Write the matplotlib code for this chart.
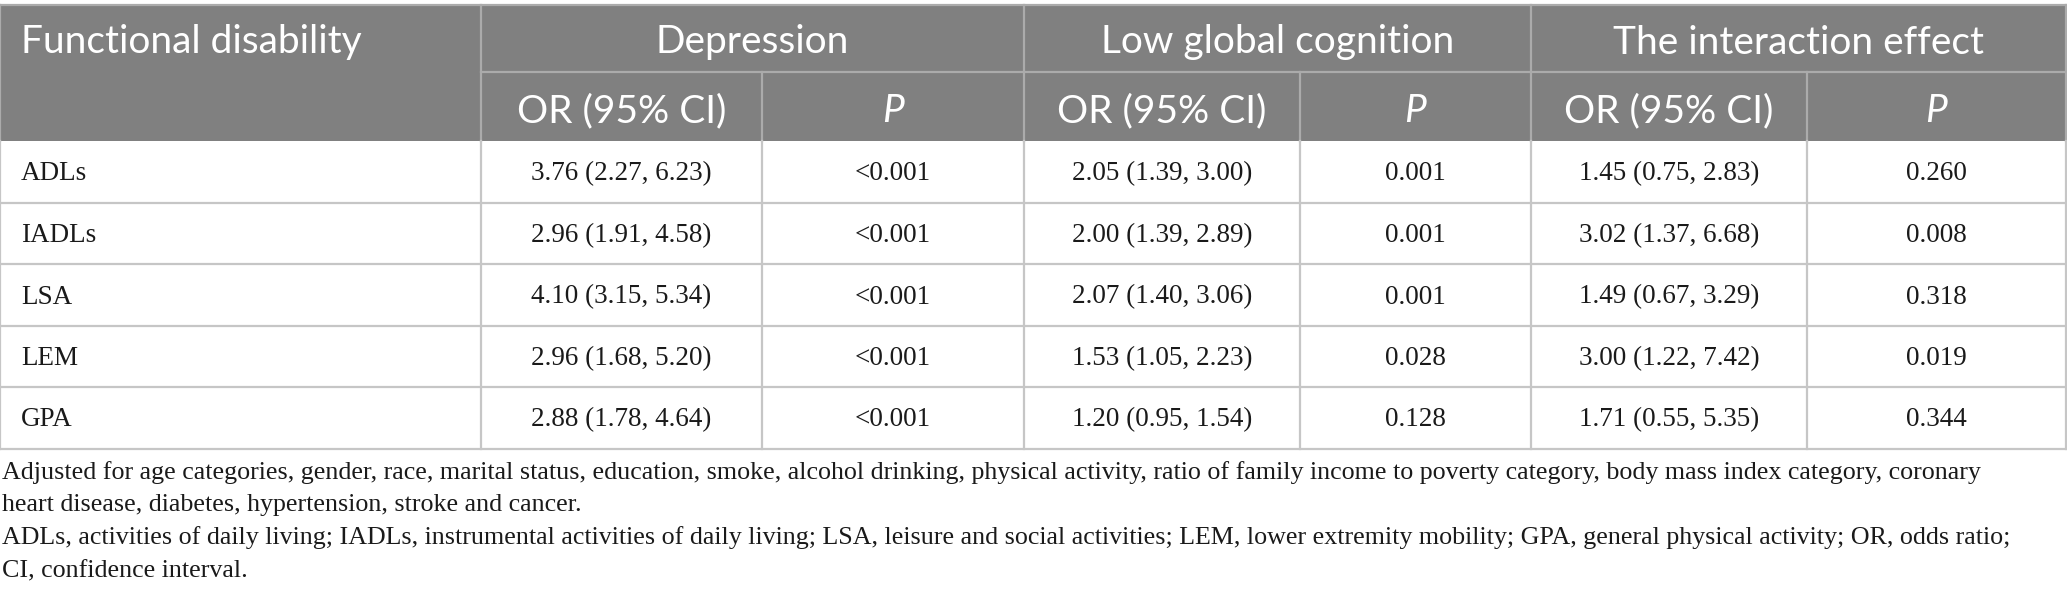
import matplotlib
matplotlib.use("Agg")
import matplotlib.pyplot as plt
from matplotlib.patches import Rectangle

OUT_PNG = "out.png"
W, H = 2067, 613
DPI = 100

# --- contenuti della tabella ---
GROUPS = ["Depression", "Low global cognition", "The interaction effect"]
SUB_HEADERS = ["OR (95% CI)", "P"]
ROW_LABELS = ["ADLs", "IADLs", "LSA", "LEM", "GPA"]

DEP_OR = ["3.76 (2.27, 6.23)", "2.96 (1.91, 4.58)", "4.10 (3.15, 5.34)",
          "2.96 (1.68, 5.20)", "2.88 (1.78, 4.64)"]
DEP_P = ["<0.001", "<0.001", "<0.001", "<0.001", "<0.001"]
COG_OR = ["2.05 (1.39, 3.00)", "2.00 (1.39, 2.89)", "2.07 (1.40, 3.06)",
          "1.53 (1.05, 2.23)", "1.20 (0.95, 1.54)"]
COG_P = ["0.001", "0.001", "0.001", "0.028", "0.128"]
INT_OR = ["1.45 (0.75, 2.83)", "3.02 (1.37, 6.68)", "1.49 (0.67, 3.29)",
          "3.00 (1.22, 7.42)", "1.71 (0.55, 5.35)"]
INT_P = ["0.260", "0.008", "0.318", "0.019", "0.344"]

FOOTNOTES = [
    "Adjusted for age categories, gender, race, marital status, education, smoke, alcohol drinking, "
    "physical activity, ratio of family income to poverty category, body mass index category, coronary",
    "heart disease, diabetes, hypertension, stroke and cancer.",
    "ADLs, activities of daily living; IADLs, instrumental activities of daily living; LSA, leisure and "
    "social activities; LEM, lower extremity mobility; GPA, general physical activity; OR, odds ratio;",
    "CI, confidence interval.",
]

# --- geometria (pixel) ---
COL_X = [0, 481, 762, 1024, 1300, 1531, 1807, 2066]
HDR_Y = [5, 72, 141]
ROW_Y = [141, 203, 264, 326, 387, 449]
FOOT_Y = [473, 505, 538, 571]

HDR_BG = "#808080"
HDR_LINE = "#ababab"
GRID = "#c6c6c6"
TXT = "#1a1a1a"

HDR_FONT = ["Lato", "DejaVu Sans"]
BODY_FONT = ["Liberation Serif", "DejaVu Serif"]
HDR_SIZE = 28
BODY_SIZE = 19.5
FOOT_SIZE = 18.7

fig = plt.figure(figsize=(W / DPI, H / DPI), dpi=DPI)
ax = fig.add_axes([0, 0, 1, 1])
ax.set_xlim(0, W)
ax.set_ylim(H, 0)
ax.axis("off")

# sfondo intestazione
ax.add_patch(Rectangle((COL_X[0], HDR_Y[0]), COL_X[-1] - COL_X[0], HDR_Y[2] - HDR_Y[0],
                       facecolor=HDR_BG, edgecolor="none", zorder=1))

# linee intestazione
ax.plot([COL_X[0], COL_X[-1]], [HDR_Y[0], HDR_Y[0]], color=HDR_LINE, lw=1.6, zorder=2)
ax.plot([COL_X[1], COL_X[-1]], [HDR_Y[1], HDR_Y[1]], color=HDR_LINE, lw=1.6, zorder=2)
for x in [COL_X[0], COL_X[1], COL_X[3], COL_X[5], COL_X[7]]:
    ax.plot([x, x], [HDR_Y[0], HDR_Y[2]], color=HDR_LINE, lw=1.6, zorder=2)
for x in [COL_X[2], COL_X[4], COL_X[6]]:
    ax.plot([x, x], [HDR_Y[1], HDR_Y[2]], color=HDR_LINE, lw=1.6, zorder=2)

# testi intestazione
y1 = (HDR_Y[0] + HDR_Y[1]) / 2 + 4
y2 = (HDR_Y[1] + HDR_Y[2]) / 2 + 5
ax.text(21, y1, "Functional disability", color="white",
        family=HDR_FONT, fontsize=HDR_SIZE, ha="left", va="center", zorder=3)
for i, g in enumerate(GROUPS):
    xc = (COL_X[1 + 2 * i] + COL_X[3 + 2 * i]) / 2
    ax.text(xc, y1, g, color="white",
            family=HDR_FONT, fontsize=HDR_SIZE, ha="center", va="center", zorder=3)
    for j, s in enumerate(SUB_HEADERS):
        xs = (COL_X[1 + 2 * i + j] + COL_X[2 + 2 * i + j]) / 2
        ax.text(xs, y2, s, color="white",
                family=HDR_FONT, fontsize=HDR_SIZE, ha="center", va="center",
                style="italic" if s == "P" else "normal", zorder=3)

# griglia dati
for y in ROW_Y[1:]:
    ax.plot([COL_X[0], COL_X[-1]], [y, y], color=GRID, lw=1.6, zorder=2)
for x in COL_X:
    ax.plot([x, x], [ROW_Y[0], ROW_Y[-1]], color=GRID, lw=1.6, zorder=2)

# celle dati
columns = [DEP_OR, DEP_P, COG_OR, COG_P, INT_OR, INT_P]
for r, label in enumerate(ROW_LABELS):
    yc = (ROW_Y[r] + ROW_Y[r + 1]) / 2 + 2
    ax.text(21, yc, label, color=TXT, family=BODY_FONT, fontsize=BODY_SIZE,
            ha="left", va="center", zorder=3)
    for c, col in enumerate(columns):
        xc = (COL_X[c + 1] + COL_X[c + 2]) / 2
        ax.text(xc, yc, col[r], color=TXT, family=BODY_FONT, fontsize=BODY_SIZE,
                ha="center", va="center", zorder=3)

# note
for y, line in zip(FOOT_Y, FOOTNOTES):
    ax.text(2, y, line, color=TXT, family=BODY_FONT, fontsize=FOOT_SIZE,
            ha="left", va="center", zorder=3)

fig.savefig(OUT_PNG, dpi=DPI, facecolor="white")
